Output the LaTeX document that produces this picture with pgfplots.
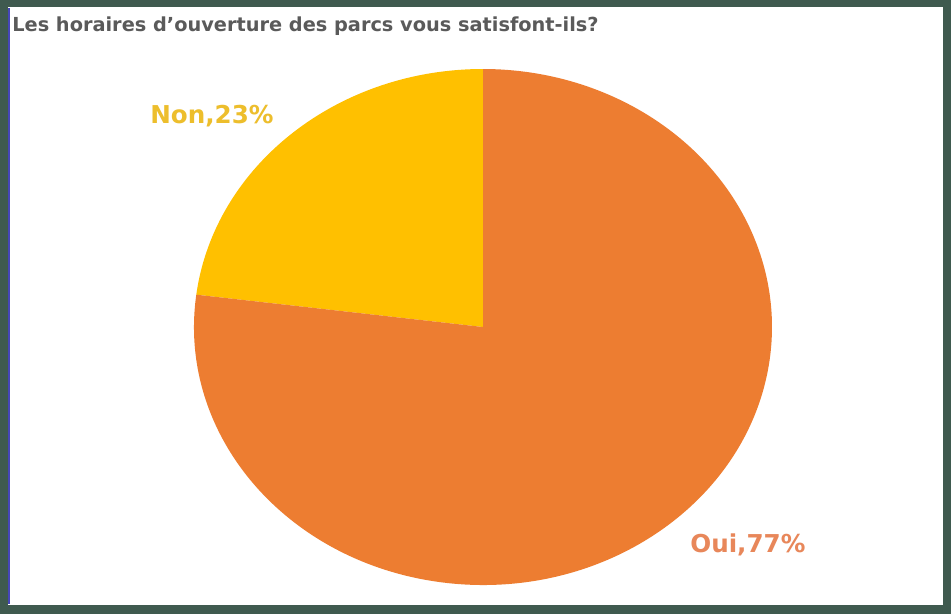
\documentclass[border=0pt]{standalone}
\usepackage{pgfplots}
\pgfplotsset{compat=1.18}
\usepackage{pgfplotstable}
\usepackage{fontspec}
\setmainfont{DejaVu Sans}
\definecolor{frame}{HTML}{3F5A4F}
\definecolor{oui}{HTML}{ED7D31}
\definecolor{non}{HTML}{FFC000}
\definecolor{ouitxt}{HTML}{E8875A}
\definecolor{nontxt}{HTML}{EDBE2C}
\definecolor{titletxt}{HTML}{5A5A5A}

% share of answers, in percent
\pgfplotstableread{
label value
Non 23
Oui 77
}\pietable

\begin{document}
\begin{tikzpicture}
\pgfplotstablegetelem{0}{value}\of\pietable \let\vnon\pgfplotsretval
\pgfplotstablegetelem{1}{value}\of\pietable \let\voui\pgfplotsretval
\pgfmathsetmacro{\astart}{90}
\pgfmathsetmacro{\amid}{90+3.6*\vnon}
\pgfmathsetmacro{\aend}{\amid+3.6*\voui}
\begin{axis}[
    scale only axis,
    width=19.02cm, height=12.28cm,
    xmin=0, xmax=951, ymin=0, ymax=614,
    y dir=reverse,
    axis lines=none,
    clip=false,
  ]
  % frame
  \fill[frame] (axis cs:0,0) rectangle (axis cs:951,614);
  \fill[white] (axis cs:8,7) rectangle (axis cs:943,605);
  \draw[blue!45!gray, line width=0.8pt] (axis cs:9,8) -- (axis cs:9,604);
  % slices
  \fill[non] (axis cs:483,327) -- ++(\astart:5.78cm and 5.16cm)
     arc[start angle=\astart, end angle=\amid, x radius=5.78cm, y radius=5.16cm] -- cycle;
  \fill[oui] (axis cs:483,327) -- ++(\amid:5.78cm and 5.16cm)
     arc[start angle=\amid, end angle=\aend, x radius=5.78cm, y radius=5.16cm] -- cycle;
  % labels
  \node[anchor=west, font=\bfseries\fontsize{11}{13}\selectfont, text=titletxt, inner sep=0pt]
     at (axis cs:12,26) {Les horaires d'ouverture des parcs vous satisfont-ils?};
  \node[anchor=west, font=\bfseries\fontsize{14}{16}\selectfont, text=nontxt, inner sep=0pt]
     at (axis cs:150,116) {\pgfplotstablegetelem{0}{label}\of\pietable\pgfplotsretval,\vnon\%};
  \node[anchor=west, font=\bfseries\fontsize{14}{16}\selectfont, text=ouitxt, inner sep=0pt]
     at (axis cs:690,545) {\pgfplotstablegetelem{1}{label}\of\pietable\pgfplotsretval,\voui\%};
\end{axis}
\end{tikzpicture}
\end{document}
